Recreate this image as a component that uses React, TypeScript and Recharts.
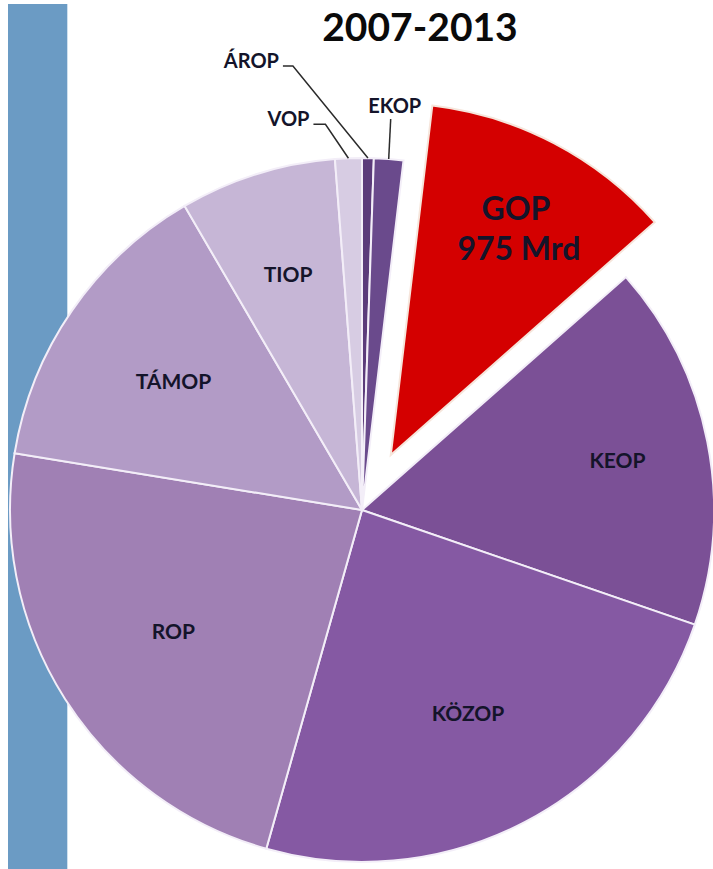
import { PieChart, Pie, Cell } from "recharts";

const CATEGORIES = ["ÁROP", "EKOP", "GOP", "KEOP", "KÖZOP", "ROP", "TÁMOP", "TIOP", "VOP"];
const VALUES = [45, 113, 975, 1410, 2024, 1948, 1177, 603, 103];
const COLORS = ["#5b3b7a", "#6a4a8c", "#d40000", "#7b5096", "#8559a3", "#a080b4", "#b29bc6", "#c6b6d6", "#d7cce3"];
const TITLE = "2007-2013";
const GOP_AMOUNT = "975 Mrd";
const EXPLODED = "GOP";

// where each label goes: inside at a fraction of the radius, or outside on a leader line
const LABEL_LAYOUT: Record<string, any> = {
  ÁROP: { outside: true, elbow: [-75, -92], tail: -10, anchor: "end" },
  EKOP: { outside: true, elbow: [2, -40], tail: 0, anchor: "middle" },
  GOP: { r: 0.735 },
  KEOP: { r: 0.74 },
  KÖZOP: { r: 0.65 },
  ROP: { r: 0.635 },
  TÁMOP: { r: 0.65 },
  TIOP: { r: 0.705 },
  VOP: { outside: true, elbow: [-23, -34], tail: -12, anchor: "end" },
};

const data = CATEGORIES.map((name, i) => ({ name, value: VALUES[i] }));

const W = 713;
const H = 869;
const CX = 362;
const CY = 510;
const R = 352;
const EXPLODE = 62;
const RAD = Math.PI / 180;
const FONT = "Lato, 'Open Sans', sans-serif";

const total = VALUES.reduce((a, b) => a + b, 0);
const gopIdx = CATEGORIES.indexOf(EXPLODED);
const before = VALUES.slice(0, gopIdx).reduce((a, b) => a + b, 0);
const gopMid = ((before + VALUES[gopIdx] / 2) / total) * 360; // clockwise from top
const ex = EXPLODE * Math.sin(gopMid * RAD);
const ey = -EXPLODE * Math.cos(gopMid * RAD);

function renderLabel(props: any, onlyGop: boolean) {
  const { cx, cy, midAngle, outerRadius, name, index } = props;
  if ((name === EXPLODED) !== onlyGop) return null;
  const lay = LABEL_LAYOUT[name];
  const cos = Math.cos(-midAngle * RAD);
  const sin = Math.sin(-midAngle * RAD);
  if (lay.outside) {
    const x0 = cx + outerRadius * cos;
    const y0 = cy + outerRadius * sin;
    const x1 = x0 + lay.elbow[0];
    const y1 = y0 + lay.elbow[1];
    const x2 = x1 + lay.tail;
    const tx = lay.anchor === "end" ? x2 - 4 : x1 + 4;
    const ty = lay.anchor === "end" ? y1 + 2 : y1 - 6;
    return (
      <g key={`l-${index}`}>
        <polyline points={`${x0},${y0} ${x1},${y1} ${x2},${y1}`} fill="none" stroke="#2b2b2b" strokeWidth={1.5} />
        <text x={tx} y={ty} textAnchor={lay.anchor} fontFamily={FONT} fontWeight={700} fontSize={20} fill="#14142a">
          {name}
        </text>
      </g>
    );
  }
  const x = cx + outerRadius * lay.r * cos;
  const y = cy + outerRadius * lay.r * sin;
  if (name === EXPLODED) {
    return (
      <text key={`l-${index}`} x={x + 6} textAnchor="middle" fontFamily={FONT} fontWeight={700} fontSize={32} fill="#14142a">
        <tspan x={x + 5} y={y - 6}>{name}</tspan>
        <tspan x={x + 8} y={y + 34}>{GOP_AMOUNT}</tspan>
      </text>
    );
  }
  return (
    <text key={`l-${index}`} x={x} y={y} textAnchor="middle" dominantBaseline="central" fontFamily={FONT} fontWeight={700} fontSize={21} fill="#14142a">
      {name}
    </text>
  );
}

export default function App() {
  return (
    <div style={{ position: "absolute", left: 0, top: 0, width: W, height: H, background: "#fff", overflow: "hidden" }}>
      <div style={{ position: "absolute", left: 8, top: 4, width: 59, height: H - 4, background: "#6b9bc4", borderRight: "1px solid #cfe0ee" }} />
      <div
        style={{
          position: "absolute",
          left: 0,
          top: 6,
          width: 840,
          textAlign: "center",
          fontFamily: FONT,
          fontWeight: 700,
          fontSize: 39,
          lineHeight: "40px",
          color: "#0a0a0a",
        }}
      >
        {TITLE}
      </div>
      <div style={{ position: "absolute", left: 0, top: 0 }}>
        <PieChart width={W} height={H} margin={{ top: 0, right: 0, bottom: 0, left: 0 }}>
          <Pie
            data={data}
            dataKey="value"
            nameKey="name"
            cx={CX}
            cy={CY}
            outerRadius={R}
            startAngle={90}
            endAngle={-270}
            stroke="#f3eef8"
            strokeWidth={2}
            isAnimationActive={false}
            labelLine={false}
            label={(p: any) => renderLabel(p, false)}
          >
            {data.map((d, i) => (
              <Cell key={d.name} fill={d.name === EXPLODED ? "none" : COLORS[i]} stroke={d.name === EXPLODED ? "none" : "#f3eef8"} />
            ))}
          </Pie>
          <Pie
            data={data}
            dataKey="value"
            nameKey="name"
            cx={CX + ex}
            cy={CY + ey}
            outerRadius={R}
            startAngle={90}
            endAngle={-270}
            strokeWidth={2}
            isAnimationActive={false}
            labelLine={false}
            label={(p: any) => renderLabel(p, true)}
          >
            {data.map((d, i) => (
              <Cell key={d.name} fill={d.name === EXPLODED ? COLORS[i] : "none"} stroke={d.name === EXPLODED ? "#f6e6dc" : "none"} />
            ))}
          </Pie>
        </PieChart>
      </div>
    </div>
  );
}
